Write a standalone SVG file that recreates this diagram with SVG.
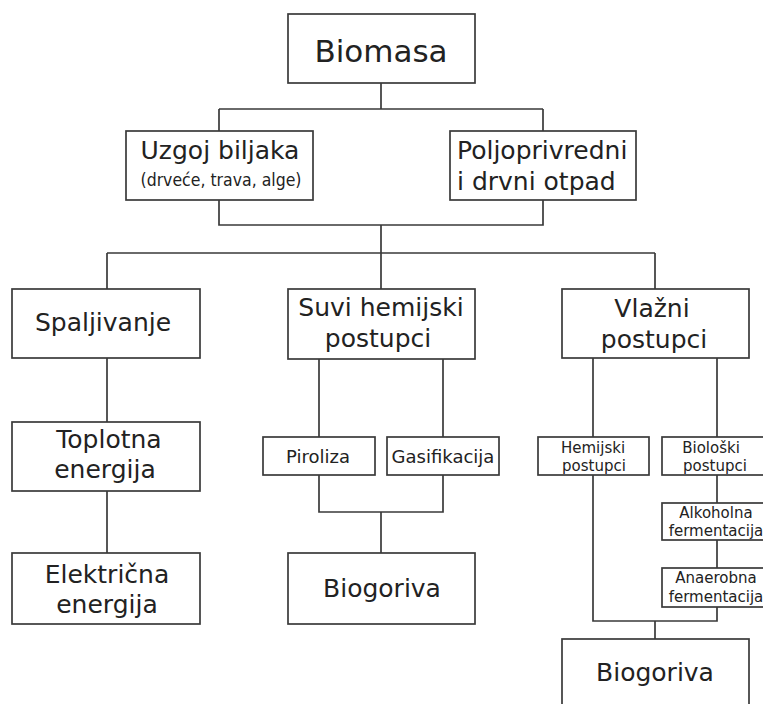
<svg xmlns="http://www.w3.org/2000/svg" width="763" height="704" viewBox="0 0 763 704">
<style>
.box{fill:#fff;stroke:#3a3a3a;stroke-width:1.7}
.ln{fill:none;stroke:#3a3a3a;stroke-width:1.7}
text{font-family:"DejaVu Sans",Verdana,sans-serif;fill:#222}
.big{font-size:25px;text-anchor:middle}
.title{font-size:31px;text-anchor:middle}
.mid{font-size:18px;text-anchor:middle}
.sm{font-size:15px;text-anchor:middle}
</style>
<rect width="763" height="704" fill="#fff"/>
<g id="connectors">
<path class="ln" d="M381 83V109M219 109H543M219 109V131M543 109V131"/>
<path class="ln" d="M219 200V225H543V200M381 225V253M107 253H655M107 253V289M381 253V289M655 253V289"/>
<path class="ln" d="M107 358V422M107 491V553"/>
<path class="ln" d="M319 359V437M443 359V437M319 475V512H443V475M381 512V553"/>
<path class="ln" d="M593 358V437M717 358V437M717 475V503M717 540V568M593 475V621H717V607M655 621V639"/>
</g>
<g id="biomasa"><rect class="box" x="288" y="14" width="187" height="69"/><text class="title" x="381" y="62">Biomasa</text></g>
<g id="uzgoj"><rect class="box" x="126" y="131" width="187" height="69"/><text class="big" x="220" y="159">Uzgoj biljaka</text><text x="221" y="186" font-size="18.5" text-anchor="middle" textLength="161" lengthAdjust="spacingAndGlyphs">(drveće, trava, alge)</text></g>
<g id="otpad"><rect class="box" x="450" y="131" width="186" height="69"/><text x="457" y="159" font-size="25">Poljoprivredni</text><text x="457" y="190" font-size="25">i drvni otpad</text></g>
<g id="spaljivanje"><rect class="box" x="12" y="289" width="188" height="69"/><text class="big" x="103" y="331">Spaljivanje</text></g>
<g id="suvi"><rect class="box" x="288" y="289" width="187" height="70"/><text class="big" x="381" y="316">Suvi hemijski</text><text class="big" x="378" y="347">postupci</text></g>
<g id="vlazni"><rect class="box" x="562" y="289" width="187" height="69"/><text class="big" x="652" y="317">Vlažni</text><text class="big" x="654" y="348">postupci</text></g>
<g id="toplotna"><rect class="box" x="12" y="422" width="188" height="69"/><text class="big" x="109" y="448">Toplotna</text><text class="big" x="105" y="478">energija</text></g>
<g id="elektricna"><rect class="box" x="12" y="553" width="188" height="71"/><text class="big" x="107" y="583">Električna</text><text class="big" x="107" y="613">energija</text></g>
<g id="piroliza"><rect class="box" x="263" y="437" width="112" height="38"/><text class="mid" x="318" y="463">Piroliza</text></g>
<g id="gasifikacija"><rect class="box" x="387" y="437" width="112" height="38"/><text class="mid" x="443" y="463">Gasifikacija</text></g>
<g id="biogoriva1"><rect class="box" x="288" y="553" width="187" height="71"/><text class="big" x="382" y="597">Biogoriva</text></g>
<g id="hemijski"><rect class="box" x="538" y="437" width="111" height="38"/><text class="sm" x="593" y="453">Hemijski</text><text class="sm" x="594" y="471">postupci</text></g>
<g id="bioloski"><rect class="box" x="662" y="437" width="110" height="38"/><text class="sm" x="711" y="453">Biološki</text><text class="sm" x="715" y="471">postupci</text></g>
<g id="alkoholna"><rect class="box" x="662" y="503" width="110" height="37"/><text class="sm" x="716" y="518">Alkoholna</text><text class="sm" x="716" y="536">fermentacija</text></g>
<g id="anaerobna"><rect class="box" x="662" y="568" width="110" height="39"/><text class="sm" x="716" y="583">Anaerobna</text><text class="sm" x="716" y="602">fermentacija</text></g>
<g id="biogoriva2"><rect class="box" x="562" y="639" width="187" height="80"/><text class="big" x="655" y="681">Biogoriva</text></g>
</svg>
